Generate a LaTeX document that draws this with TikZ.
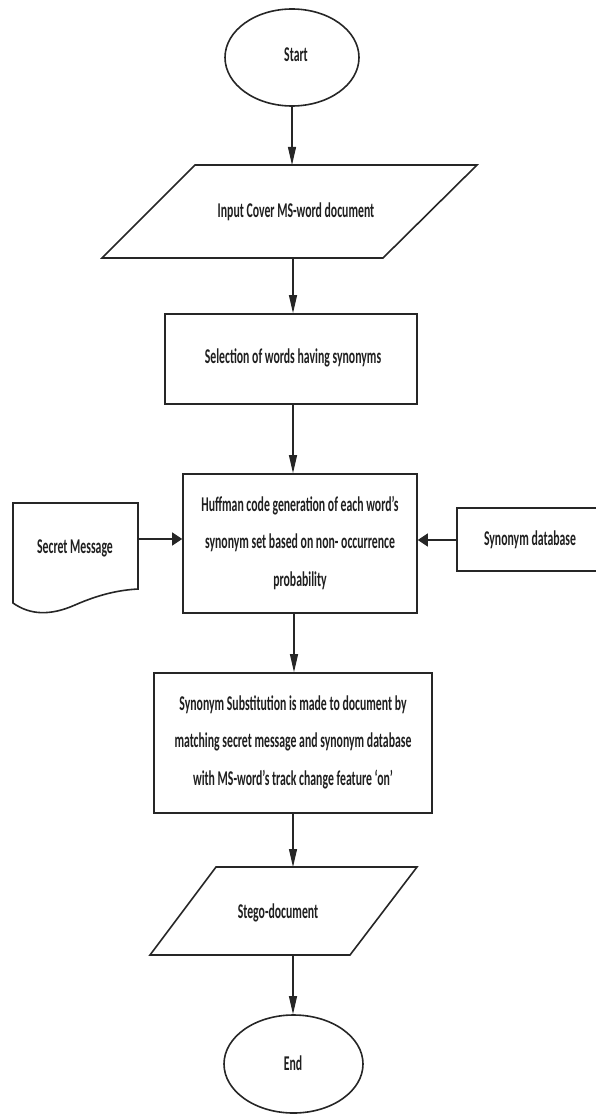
\documentclass[tikz,border=0pt]{standalone}
\usepackage{fontspec}
\setmainfont{Carlito}[FakeStretch=0.56]
\usetikzlibrary{arrows.meta,shapes.geometric}
\begin{document}
\begin{tikzpicture}[x=1pt,y=-1pt,
  shapeline/.style={draw=black!85,line width=1.6pt},
  txt/.style={inner sep=0pt,align=center,text=black!88,font=\fontsize{21}{37.5}\selectfont\bfseries},
  varr/.style={draw=black!85,line width=1.1pt,-{Triangle[length=18pt,width=8pt]}},
  harr/.style={draw=black!85,line width=1.4pt,-{Triangle[length=10pt,width=13pt]}}]
\useasboundingbox (0,0) rectangle (596,1115);
\clip (0,0) rectangle (596,1115);

% Start
\node[shapeline,ellipse,minimum width=134pt,minimum height=97pt,inner sep=0pt] (start) at (292,57.5) {};
\node[txt] (starttxt) at (296,55) {Start};

% Input parallelogram
\draw[shapeline] (195,165) -- (477,165) -- (383,258) -- (102,258) -- cycle;
\node[txt] (input) at (296,212) {Input Cover MS-word document};
\coordinate (inputN) at (292,165);
\coordinate (inputS) at (293,258);

% Selection rectangle
\node[shapeline,rectangle,minimum width=252pt,minimum height=90pt,inner sep=0pt] (sel) at (291,359) {};
\node[txt] (seltxt) at (293,358) {Selection of words having synonyms};

% Huffman
\node[shapeline,rectangle,minimum width=234pt,minimum height=139pt,inner sep=0pt] (huff) at (300,543.5) {};
\node[txt] (hufftxt) at (300,543) {Huffman code generation of each word’s\\ synonym set based on non- occurrence\\ probability};

% Secret message (document shape)
\draw[shapeline] (13,503) -- (138,503) -- (138,589)
  .. controls (120,590) and (100,594) .. (75,605)
  .. controls (50,616) and (30,615) .. (13,603) -- cycle;
\node[txt] (secret) at (75,548) {Secret Message};
\coordinate (secretE) at (138,539);

% Synonym database
\draw[shapeline] (457,508) rectangle (610,571);
\node[txt] (syndb) at (530,540) {Synonym database};
\coordinate (syndbW) at (457,540);

% Substitution
\node[shapeline,rectangle,minimum width=278pt,minimum height=140pt,inner sep=0pt] (subst) at (293,743) {};
\node[txt] (substtxt) at (293,742) {Synonym Substitution is made to document by\\ matching secret message and synonym database\\ with MS-word’s track change feature ‘on’};

% Stego parallelogram
\draw[shapeline] (216,867) -- (417,867) -- (350,955) -- (150,955) -- cycle;
\node[txt] (stego) at (278,913) {Stego-document};
\coordinate (stegoN) at (293,867);
\coordinate (stegoS) at (293,955);

% End
\node[shapeline,ellipse,minimum width=139pt,minimum height=98pt,inner sep=0pt] (end) at (293.5,1064) {};
\node[txt] (endtxt) at (293,1063) {End};

% connectors
\draw[varr] (start.south) -- (inputN);
\draw[varr] (inputS) -- (inputS |- sel.north);
\draw[varr] (sel.south -| 293,0) -- (huff.north -| 293,0);
\draw[harr] (secretE) -- (secretE -| huff.west);
\draw[harr] (syndbW) -- (syndbW -| huff.east);
\draw[varr] (huff.south -| 294,0) -- (subst.north -| 294,0);
\draw[varr] (subst.south -| 293,0) -- (stegoN);
\draw[varr] (stegoS) -- (end.north -| stegoS);
\end{tikzpicture}
\end{document}
